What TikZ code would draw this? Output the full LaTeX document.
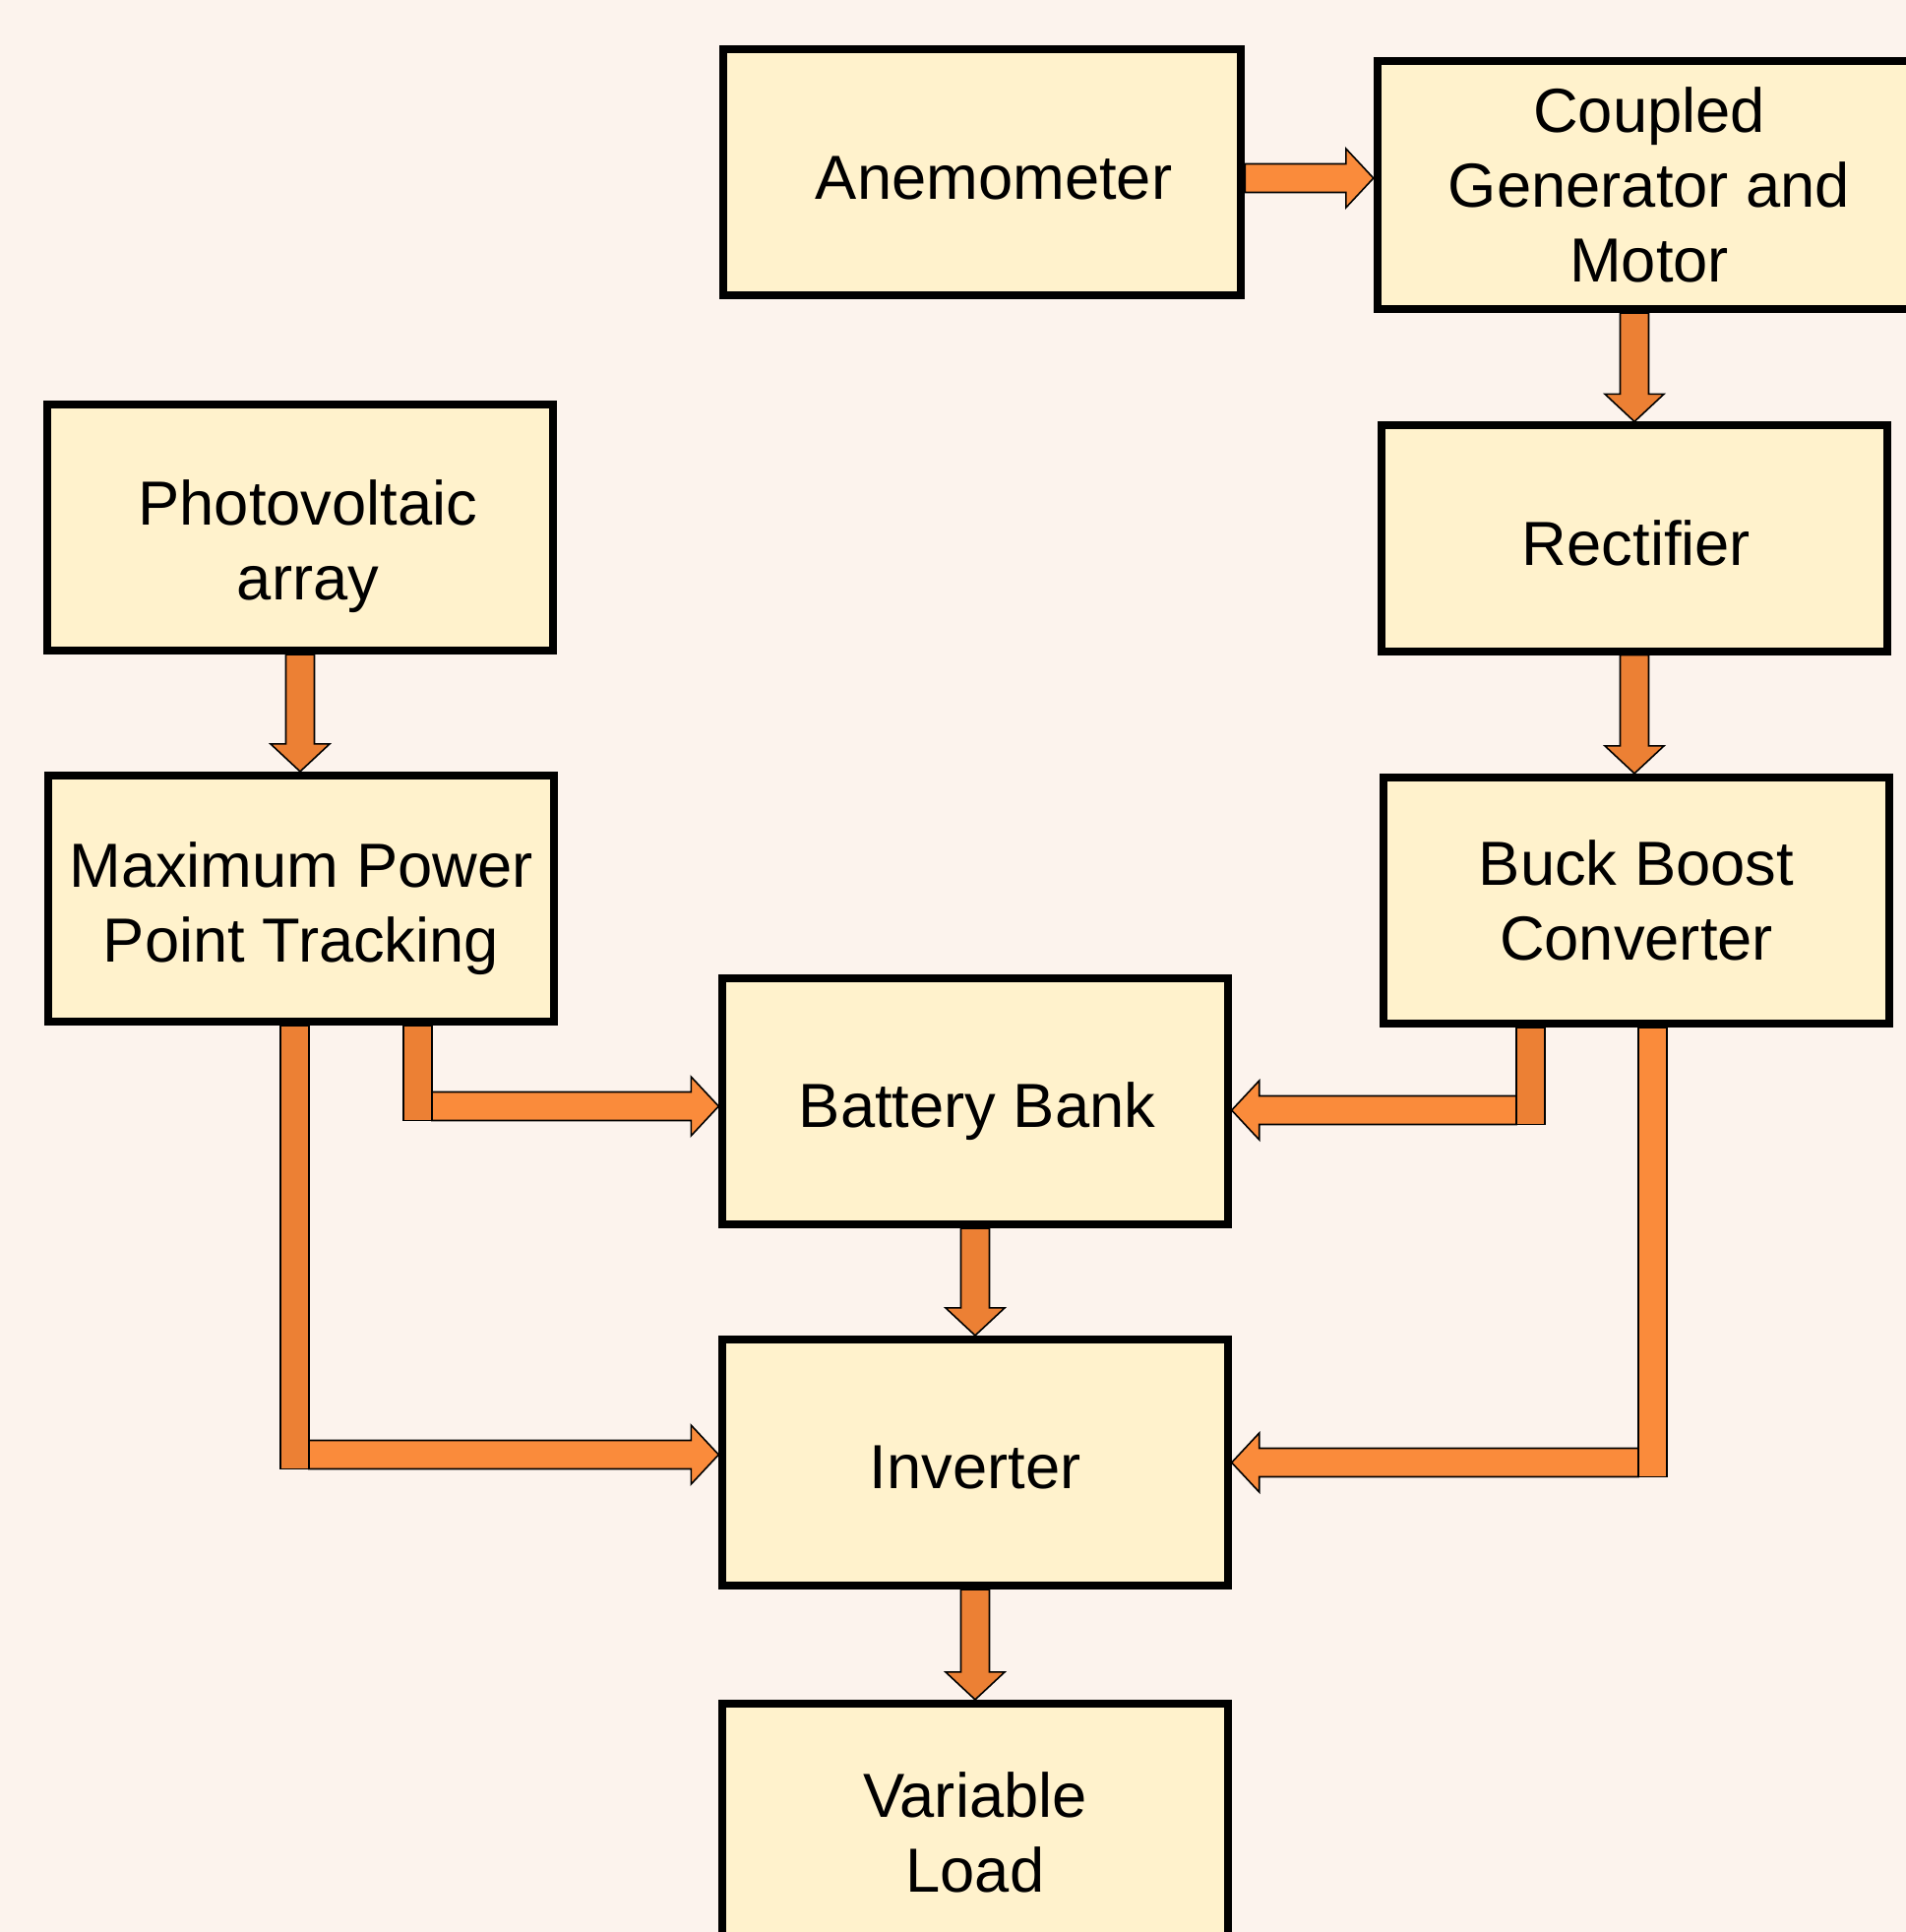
\documentclass[tikz,border=0pt]{standalone}
\usepackage{fontspec}
\setmainfont{Liberation Sans}
\usepackage{xcolor}
\usepackage{tikz}
\usetikzlibrary{positioning, calc}
\definecolor{bgPaper}{HTML}{FCF3ED}
\definecolor{boxFill}{HTML}{FFF2CC}
\definecolor{arrLight}{HTML}{FA8B3B}
\definecolor{arrDark}{HTML}{EC8034}
\newcommand{\shaftw}{0.145cm}
\newcommand{\headw}{0.30cm}
\newcommand{\headl}{0.28cm}
\tikzset{
  block/.style={draw=black, line width=2.3pt, fill=boxFill,
    minimum width=5.13cm, minimum height=2.50cm},
  lbl/.style={align=center, font=\fontsize{18}{21.6}\selectfont},
  fatarrow/.style={draw=black, line width=0.45pt, fill=#1,
    to path={($(\tikztostart)!\shaftw!90:(\tikztotarget)$)
      -- ($(\tikztotarget)!\headl!(\tikztostart)!\shaftw!90:(\tikztotarget)$)
      -- ($(\tikztotarget)!\headl!(\tikztostart)!\headw!90:(\tikztotarget)$)
      -- (\tikztotarget)
      -- ($(\tikztotarget)!\headl!(\tikztostart)!\headw!-90:(\tikztotarget)$)
      -- ($(\tikztotarget)!\headl!(\tikztostart)!\shaftw!-90:(\tikztotarget)$)
      -- ($(\tikztostart)!\shaftw!-90:(\tikztotarget)$) -- cycle}},
  fatarrow/.default=arrLight,
  stubbar/.style={draw=black, line width=0.45pt, fill=#1},
  stubbar/.default=arrDark
}

\begin{document}
\begin{tikzpicture}[x=0.01cm, y=-0.01cm]
  \fill[bgPaper] (0,0) rectangle (1937,1963);
  \useasboundingbox (0,0) rectangle (1937,1963);

  % wind side
  \node[block, minimum width=5.26cm, minimum height=2.49cm,
    label={[lbl, shift={(12,6)}]center:Anemometer}] (ane) at (998,175) {};
  \node[block, minimum width=5.52cm, minimum height=2.52cm,
    label={[lbl]center:{Coupled\\Generator and\\Motor}}] (cgm) at (1676,188) {};
  \node[block, minimum height=2.29cm,
    label={[lbl, shift={(2,5)}]center:Rectifier}] (rect) at (1661,547) {};
  \node[block, label={[lbl]center:{Buck Boost\\Converter}}] (buck) at (1663,915) {};

  % solar side
  \node[block, label={[lbl, shift={(8,19)}]center:{Photovoltaic\\array}}] (pv) at (305,536) {};
  \node[block, label={[lbl, shift={(0,10)}]center:{Maximum Power\\Point Tracking}}] (mppt) at (306,913) {};

  % storage and load
  \node[block, label={[lbl, shift={(2,10)}]center:Battery Bank}] (batt) at (991,1119) {};
  \node[block, label={[lbl, shift={(0,5)}]center:Inverter}] (inv) at (991,1486) {};
  \node[block, label={[lbl, shift={(0,6)}]center:{Variable\\Load}}] (load) at (991,1856) {};

  % straight arrows
  \coordinate (aneOut) at ($(ane.east)+(0,6)$);
  \draw[fatarrow] (aneOut) to (cgm.west |- aneOut);
  \draw[fatarrow=arrDark] (rect.north |- cgm.south) to (rect.north);
  \draw[fatarrow=arrDark] (rect.south) to (rect.south |- buck.north);
  \draw[fatarrow=arrDark] (pv.south) to (pv.south |- mppt.north);
  \draw[fatarrow=arrDark] (batt.south) to (inv.north);
  \draw[fatarrow=arrDark] (inv.south) to (load.north);

  % elbow arrows
  \coordinate (mb) at (439,1124);
  \coordinate (mi) at (314,1478);
  \coordinate (bb) at (1541,1128);
  \coordinate (bi) at (1665,1486);
  \draw[stubbar] ($(mppt.south -| mb)+(-29,0)$) rectangle ($(mb)+(0,14.5)$);
  \draw[fatarrow] (mb) to (batt.west |- mb);
  \draw[stubbar] ($(mppt.south -| mi)+(-29,0)$) rectangle ($(mi)+(0,14.5)$);
  \draw[fatarrow] (mi) to (inv.west |- mi);
  \draw[stubbar] ($(buck.south -| bb)+(29,0)$) rectangle ($(bb)+(0,14.5)$);
  \draw[fatarrow] (bb) to (batt.east |- bb);
  \draw[stubbar=arrLight] ($(buck.south -| bi)+(29,0)$) rectangle ($(bi)+(0,14.5)$);
  \draw[fatarrow] (bi) to (inv.east |- bi);
\end{tikzpicture}
\end{document}
